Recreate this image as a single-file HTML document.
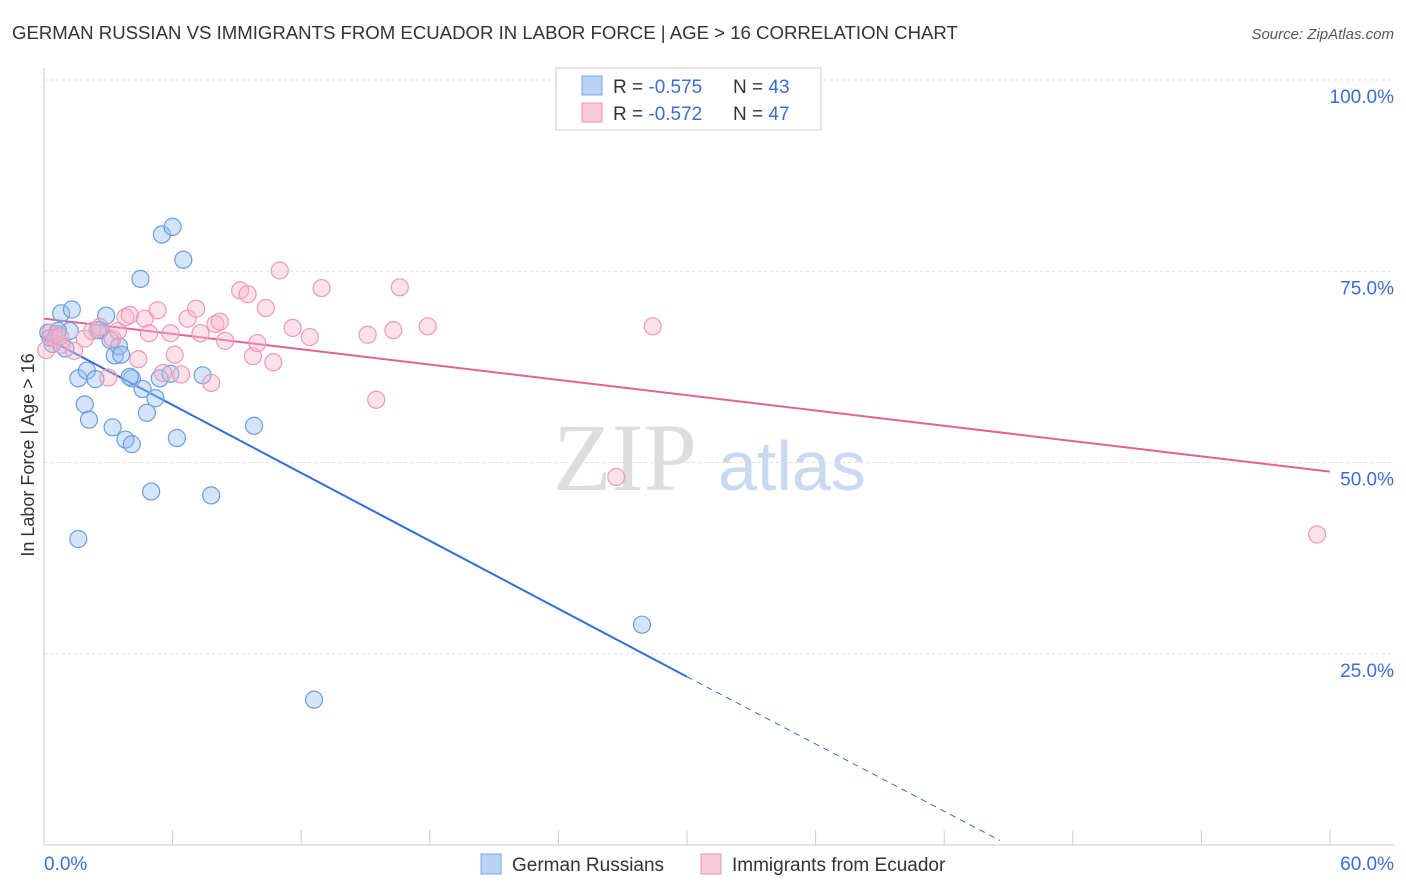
<!DOCTYPE html>
<html><head><meta charset="utf-8"><style>
body{margin:0;background:#fff;font-family:"Liberation Sans",sans-serif;}
svg{display:block}
</style></head><body>
<svg id="chart" width="1406" height="892">
<text x="12" y="39" font-size="18.6" fill="#333">GERMAN RUSSIAN VS IMMIGRANTS FROM ECUADOR IN LABOR FORCE | AGE &gt; 16 CORRELATION CHART</text>
<text x="1394" y="39" font-size="15" fill="#555" font-style="italic" text-anchor="end">Source: ZipAtlas.com</text>
<text x="553" y="490" font-size="96" fill="#ddd" font-family="Liberation Serif,serif">ZIP</text>
<text x="718" y="490" font-size="70" fill="#c9daf0">atlas</text>
<g id="grid"></g><g id="axes"></g><g id="lines"></g><g id="pts"></g>
<g>
<rect x="556" y="68" width="265" height="62" fill="#fff" stroke="#ccc"/>
<rect x="582" y="76" width="20" height="19" fill="#b8d3f5" stroke="#7aa7e6"/>
<rect x="582" y="103" width="20" height="19" fill="#fbcad8" stroke="#eb94b0"/>
<text x="613" y="93" font-size="19" fill="#333">R = <tspan fill="#3a6fd0">-0.575</tspan></text>
<text x="733" y="93" font-size="19" fill="#333">N = <tspan fill="#3a6fd0">43</tspan></text>
<text x="613" y="120" font-size="19" fill="#333">R = <tspan fill="#3a6fd0">-0.572</tspan></text>
<text x="733" y="120" font-size="19" fill="#333">N = <tspan fill="#3a6fd0">47</tspan></text>
</g>
<g>
<rect x="481" y="854" width="20" height="20" fill="#b8d3f5" stroke="#7aa7e6"/>
<text x="512" y="871" font-size="19" fill="#333">German Russians</text>
<rect x="701" y="854" width="20" height="20" fill="#fbcad8" stroke="#eb94b0"/>
<text x="732" y="871" font-size="19" fill="#333">Immigrants from Ecuador</text>
</g>
<text transform="translate(34,455) rotate(-90)" font-size="18" fill="#333" text-anchor="middle">In Labor Force | Age &gt; 16</text>
</svg>
<script>
const blueX=[0.2,0.4,0.6,0.8,1.0,1.2,1.3,1.6,1.9,2.0,2.1,2.4,2.6,2.9,3.1,3.2,3.3,3.5,3.6,3.8,4.1,4.1,4.5,4.6,4.8,5.0,5.2,5.4,5.5,5.9,6.0,6.2,6.5,7.4,7.8,9.8,1.6,27.9,12.6,0.3,0.65,2.5,4.0];
const blueY=[67,65.5,66.8,69.5,64.9,67.2,70,61,57.6,62,55.6,60.9,67.3,69.2,66,54.6,64,65.2,64.1,53,52.4,61,74,59.6,56.5,46.2,58.4,61,79.8,61.6,80.8,53.2,76.5,61.4,45.7,54.8,40,28.8,19,66.3,67.2,67.3,61.2];
const pinkX=[0.1,0.3,0.5,0.8,1.4,1.9,2.25,2.6,3.0,3.2,3.45,3.8,4.0,4.4,4.7,4.9,5.3,5.55,5.9,6.1,6.4,6.7,7.1,7.3,7.8,8.0,8.2,8.45,9.15,9.5,9.75,9.95,10.35,10.7,11.0,11.6,12.4,12.95,15.1,15.5,16.3,16.6,17.9,26.7,28.4,59.4,0.75];
const pinkY=[64.7,67,66.2,65.4,64.6,66.2,67.2,67.7,61.1,66.2,67.2,69,69.3,63.5,68.8,66.9,69.9,61.7,66.9,64.1,61.5,68.8,70.1,66.9,60.4,68.1,68.4,65.9,72.5,72,63.9,65.6,70.2,63.1,75.1,67.6,66.4,72.8,66.7,58.2,67.3,72.9,67.8,48.1,67.8,40.6,66.5];
const tickY=[25,50,75,100];
const X=v=>44+v/60*1286, Y=v=>845-v/100*765;
const NS="http://www.w3.org/2000/svg";
function mk(t,a,p){const e=document.createElementNS(NS,t);for(const k in a)e.setAttribute(k,a[k]);document.getElementById(p).appendChild(e);return e;}
tickY.forEach(v=>{const l=mk('line',{x1:44,x2:1394,y1:Y(v),y2:Y(v),stroke:'#ddd','stroke-dasharray':'3,3'},'grid');


const t=mk('text',{x:1394,y:Y(v)+23,'font-size':19,fill:'#3a6fd0','text-anchor':'end'},'axes');t.textContent=v.toFixed(1)+'%';

});
mk('line',{x1:44,x2:44,y1:68,y2:845,stroke:'#ccc'},'axes');
mk('line',{x1:44,x2:1394,y1:845,y2:845,stroke:'#ccc'},'axes');
for(let i=0;i<=10;i++){mk('line',{x1:X(i*6),x2:X(i*6),y1:830,y2:845,stroke:'#ccc'},'axes');}
let t0=mk('text',{x:44,y:870,'font-size':19,fill:'#3a6fd0'},'axes');t0.textContent='0.0%';


let t1=mk('text',{x:1394,y:870,'font-size':19,fill:'#3a6fd0','text-anchor':'end'},'axes');t1.textContent='60.0%';


let b=mk('line',{x1:X(0),y1:Y(66.4),x2:X(30),y2:Y(22),stroke:'#2f6fd6','stroke-width':2},'lines');


let bd=mk('line',{x1:X(30),y1:Y(22),x2:X(44.6),y2:Y(0.6),stroke:'#2f6fd6','stroke-width':1,'stroke-dasharray':'6,5'},'lines');


let p=mk('line',{x1:X(0),y1:Y(68.8),x2:X(60),y2:Y(48.8),stroke:'#e4628e','stroke-width':2},'lines');


blueX.forEach((v,i)=>{const c=mk('circle',{cx:X(v),cy:Y(blueY[i]),r:8.5,fill:'rgba(150,190,240,0.4)',stroke:'#6b9de3','stroke-width':1.2},'pts');

});
pinkX.forEach((v,i)=>{const c=mk('circle',{cx:X(v),cy:Y(pinkY[i]),r:8.5,fill:'rgba(248,180,200,0.4)',stroke:'#ec9ab5','stroke-width':1.2},'pts');

});
</script>
</body></html>
